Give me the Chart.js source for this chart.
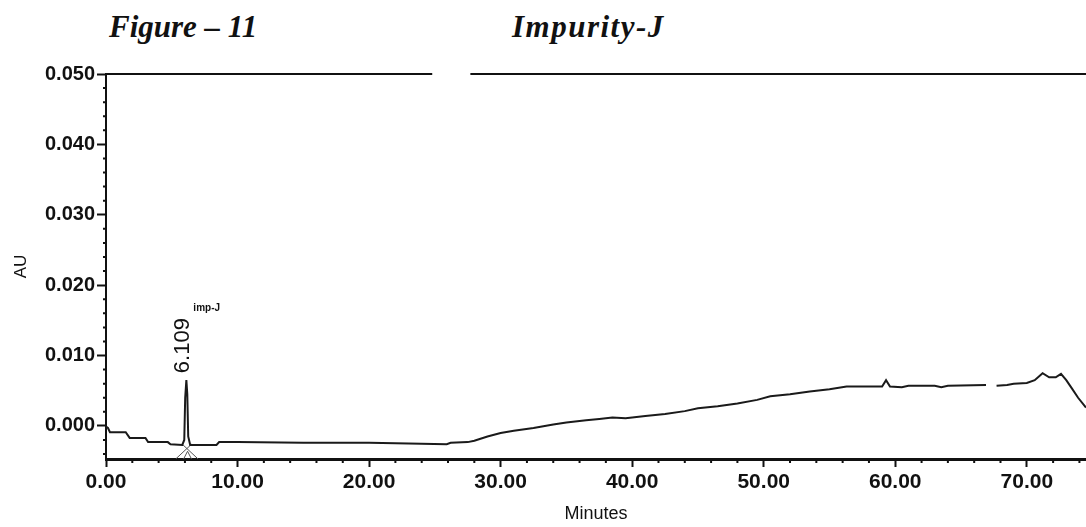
<!DOCTYPE html>
<html>
<head>
<meta charset="utf-8">
<script src="https://cdn.jsdelivr.net/npm/chart.js@4"></script>
<style>
  body { margin: 0; background: #fff; }
  .wrap { position: relative; width: 1086px; height: 527px; }
  .fig-title { position: absolute; top: 11px; font: italic bold 31px 'Liberation Serif', 'Times New Roman', serif; line-height: 31px; color: #111; white-space: nowrap; }
  canvas { position: absolute; left: 0; top: 0; }
</style>
</head>
<body>
<div class="wrap">
  <div class="fig-title" style="left:109px">Figure – 11</div>
  <div class="fig-title" style="left:512px; letter-spacing:1.5px">Impurity-J</div>
  <canvas id="chrom" width="1086" height="527"></canvas>
</div>
<script>
// retention time of the impurity peak and its apex height
const peakTime = 6.109;
const peakAU = 0.0065;
const peakName = 'imp-J';

// detector trace (minutes / AU); null marks the break in the record
const traceTime = [0, 0.15, 0.3, 1.5, 1.8, 3.0, 3.2, 4.7, 4.9, 5.8, 5.95, 6.02, peakTime, 6.18, 6.25, 6.4, 8.4, 8.6,
  10, 15, 20, 23, 25.9, 26.2, 27.5, 28, 29, 30, 31, 32.5, 34, 35, 36.5, 37.5, 38.5, 39.5, 40, 41, 42.5, 44, 45,
  46.5, 48, 49.5, 50.5, 52, 53.5, 55, 56.3, 59.0, 59.3, 59.6, 60.5, 61, 63, 63.5, 64, 66.9, 67.3, 67.7, 68.5,
  69, 70, 70.6, 71.2, 71.7, 72.2, 72.6, 73.0, 73.4, 73.9, 74.5];
const traceAU = [-0.0001, -0.0003, -0.0009, -0.0009, -0.0017, -0.0017, -0.0023, -0.0023, -0.0026, -0.0027, -0.0020, 0.0040, peakAU, 0.0045, -0.0015, -0.0027, -0.0027, -0.0023,
  -0.0023, -0.0024, -0.0024, -0.0025, -0.0026, -0.0024, -0.0023, -0.0021, -0.0015, -0.0010, -0.0007, -0.0003, 0.0002, 0.0005, 0.0008, 0.0010, 0.0012, 0.0011, 0.0012, 0.0014, 0.0017, 0.0021, 0.0025,
  0.0028, 0.0032, 0.0037, 0.0042, 0.0045, 0.0049, 0.0052, 0.0056, 0.0056, 0.0065, 0.0056, 0.0055, 0.0057, 0.0057, 0.0055, 0.0057, 0.0058, null, 0.0057, 0.0058,
  0.0060, 0.0061, 0.0065, 0.0075, 0.0069, 0.0069, 0.0074, 0.0065, 0.0054, 0.0040, 0.0026];

// integration drop lines under the peak
const markTime = [5.3, 6.5, null, 7.0, 5.8, null, 5.9, 6.2, 6.5];
const markAU = [-0.0047, -0.0026, null, -0.0047, -0.0026, null, -0.0047, -0.0036, -0.0047];

const xTicks = [0, 10, 20, 30, 40, 50, 60, 70];
const yTicks = [0, 0.01, 0.02, 0.03, 0.04, 0.05];
const xRange = [0, 74.5];
const yRange = [-0.0047, 0.05];
const frameGap = [24.8, 27.7];

const ink = '#111';
const sans = "'Liberation Sans', Arial, sans-serif";

function points(xs, ys) {
  return xs.map((t, i) => ({ x: t === null ? (xs[i - 1] + xs[i + 1]) / 2 : t, y: ys[i] }));
}

// top frame line plus the short minor ticks on both axes
const frame = {
  id: 'frame',
  afterDraw(chart) {
    const { ctx, chartArea: a, scales: { x, y } } = chart;
    ctx.save();
    ctx.strokeStyle = ink;
    ctx.lineWidth = 2;
    ctx.beginPath();
    ctx.moveTo(a.left, a.top);
    ctx.lineTo(x.getPixelForValue(frameGap[0]), a.top);
    ctx.moveTo(x.getPixelForValue(frameGap[1]), a.top);
    ctx.lineTo(a.right, a.top);
    ctx.stroke();
    ctx.beginPath();
    for (let t = 2; t < xRange[1]; t += 2) {
      if (t % 10 === 0) continue;
      const px = x.getPixelForValue(t);
      ctx.moveTo(px, a.bottom);
      ctx.lineTo(px, a.bottom + 4);
    }
    for (let k = -2; k < 25; k++) {
      if (k % 5 === 0) continue;
      const py = y.getPixelForValue(k * 0.002);
      ctx.moveTo(a.left, py);
      ctx.lineTo(a.left - 3, py);
    }
    ctx.stroke();
    ctx.restore();
  }
};

// retention time and peak name written above the apex
const peakNotes = {
  id: 'peakNotes',
  afterDatasetsDraw(chart) {
    const { ctx, scales: { x, y } } = chart;
    const px = x.getPixelForValue(peakTime);
    const py = y.getPixelForValue(peakAU);
    ctx.save();
    ctx.fillStyle = ink;
    ctx.translate(px - 3, py - 7);
    ctx.rotate(-Math.PI / 2);
    ctx.font = '22px ' + sans;
    ctx.textAlign = 'left';
    ctx.textBaseline = 'middle';
    ctx.fillText(peakTime.toFixed(3), 0, 0);
    ctx.restore();
    ctx.save();
    ctx.fillStyle = ink;
    ctx.font = 'bold 10px ' + sans;
    ctx.textAlign = 'left';
    ctx.textBaseline = 'alphabetic';
    ctx.fillText(peakName, px + 7, py - 69);
    ctx.restore();
  }
};

new Chart(document.getElementById('chrom'), {
  type: 'line',
  data: {
    datasets: [
      {
        label: 'AU',
        data: points(traceTime, traceAU),
        borderColor: '#1a1a1a',
        borderWidth: 2,
        pointRadius: 0,
        tension: 0,
        spanGaps: false
      },
      {
        label: 'baseline',
        data: points(markTime, markAU),
        borderColor: '#555',
        borderWidth: 1,
        pointRadius: 0,
        tension: 0,
        spanGaps: false
      }
    ]
  },
  options: {
    responsive: false,
    animation: false,
    devicePixelRatio: 1,
    layout: { padding: { top: 74, right: 0, bottom: 0, left: 0 } },
    plugins: { legend: { display: false }, tooltip: { enabled: false } },
    scales: {
      x: {
        type: 'linear',
        min: xRange[0], max: xRange[1],
        afterBuildTicks: s => { s.ticks = xTicks.map(v => ({ value: v })); },
        afterFit: s => { s.height = 68; },
        ticks: {
          callback: v => Number(v).toFixed(2),
          font: { family: sans, size: 21, weight: 'bold' },
          color: ink, padding: 3, maxRotation: 0, autoSkip: false
        },
        grid: { drawOnChartArea: false, tickLength: 8, tickWidth: 2, color: ink },
        border: { color: ink, width: 3 },
        title: { display: true, text: 'Minutes', color: ink, font: { family: sans, size: 18 }, padding: { top: 0, bottom: 2 } }
      },
      y: {
        min: yRange[0], max: yRange[1],
        afterBuildTicks: s => { s.ticks = yTicks.map(v => ({ value: v })); },
        afterFit: s => { s.width = 106; },
        ticks: {
          callback: v => Number(v).toFixed(3),
          font: { family: sans, size: 20, weight: 'bold' },
          color: ink, padding: 2
        },
        grid: { drawOnChartArea: false, tickLength: 9, tickWidth: 2, color: ink },
        border: { color: ink, width: 2 },
        title: { display: true, text: 'AU', color: ink, font: { family: sans, size: 17 }, padding: { top: 11, bottom: 11 } }
      }
    }
  },
  plugins: [frame, peakNotes]
});
</script>
</body>
</html>
